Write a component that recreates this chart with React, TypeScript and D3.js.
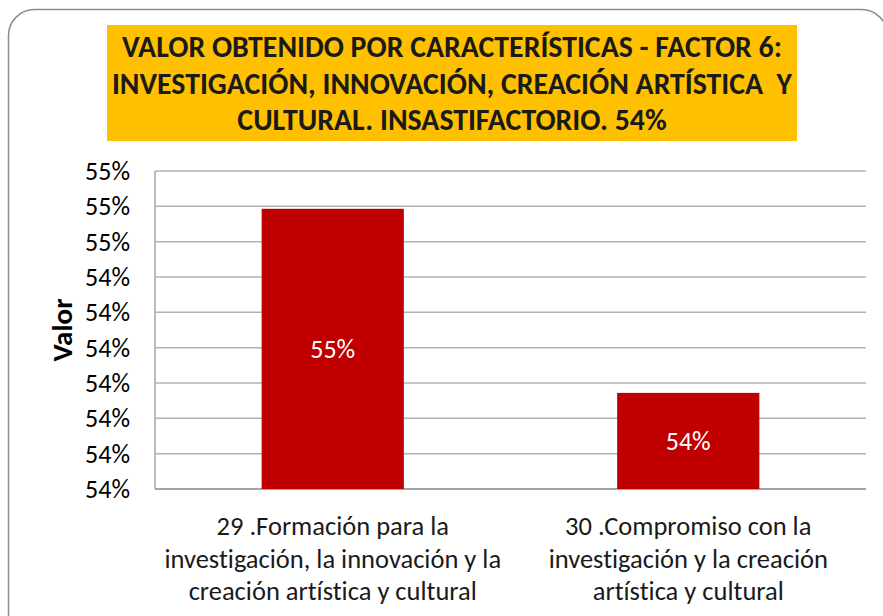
import React from 'react';
import * as d3 from 'd3';

// chart data
const categories = [
  ['29 .Formación para la', 'investigación, la innovación y la', 'creación artística y cultural'],
  ['30 .Compromiso con la', 'investigación y la creación', 'artística y cultural'],
];
const values = [0.54593, 0.54072];
const barLabels = ['55%', '54%'];
const tickValues = [0.538, 0.539, 0.54, 0.541, 0.542, 0.543, 0.544, 0.545, 0.546, 0.547];
const tickLabels = ['54%', '54%', '54%', '54%', '54%', '54%', '54%', '55%', '55%', '55%'];
const titleLines = [
  'VALOR OBTENIDO POR CARACTERÍSTICAS - FACTOR 6:',
  'INVESTIGACIÓN, INNOVACIÓN, CREACIÓN ARTÍSTICA  Y',
  'CULTURAL. INSASTIFACTORIO. 54%',
];

const W = 883;
const H = 616;
const margins = { top: 171, right: 17, bottom: 127, left: 155 };
const font = "Carlito, Calibri, 'Open Sans', sans-serif";

export default function App() {
  const width = W - margins.left - margins.right;
  const height = H - margins.top - margins.bottom;

  const xScale = d3.scaleBand<number>()
    .domain(d3.range(categories.length))
    .range([0, width])
    .paddingInner(0.6)
    .paddingOuter(0.3);

  const yScale = d3.scaleLinear()
    .domain([tickValues[0], tickValues[tickValues.length - 1]])
    .range([height, 0]);

  return (
    <svg
      width={W}
      height={H}
      style={{
        position: 'absolute',
        left: 0,
        top: 0,
        fontVariantLigatures: 'none',
        fontFeatureSettings: '"liga" 0, "clig" 0, "dlig" 0',
      }}
      fontFamily={font}
    >
      <rect x={8.5} y={9.5} width={W - 4} height={H + 20} rx={26} fill="#fff" stroke="#8c8c8c" strokeWidth={1.5} />

      {/* title box */}
      <rect x={107} y={25} width={690} height={116} fill="#FFC000" />
      {titleLines.map((t, i) => (
        <text key={i} x={452} y={57 + i * 36.5} textAnchor="middle" fontWeight="bold" fontSize={29.8} fill="#1a1a1a" style={{ whiteSpace: 'pre' }}>
          {t}
        </text>
      ))}

      <g transform={`translate(${margins.left},${margins.top})`}>
        {/* gridlines */}
        {tickValues.map((v, i) => (
          <line key={i} x1={0} x2={width} y1={yScale(v)} y2={yScale(v)} stroke="#b3b3b3" strokeWidth={1.5} />
        ))}
        <line x1={0} x2={0} y1={0} y2={height} stroke="#a6a6a6" strokeWidth={1.5} />
        <line x1={0} x2={width} y1={height} y2={height} stroke="#999" strokeWidth={1.5} />

        {/* y tick labels */}
        {tickValues.map((v, i) => (
          <text key={i} x={-25} y={yScale(v)} dy="0.35em" textAnchor="end" fontSize={26} fill="#000">
            {tickLabels[i]}
          </text>
        ))}

        {/* bars */}
        {values.map((v, i) => (
          <g key={i}>
            <rect x={xScale(i)} y={yScale(v)} width={xScale.bandwidth()} height={height - yScale(v)} fill="#C00000" />
            <text
              x={(xScale(i) as number) + xScale.bandwidth() / 2}
              y={(yScale(v) + height) / 2}
              dy="0.35em"
              textAnchor="middle"
              fontSize={26}
              fill="#fff"
            >
              {barLabels[i]}
            </text>
          </g>
        ))}

        {/* category labels */}
        {categories.map((lines, i) => (
          <text key={i} textAnchor="middle" fontSize={26.5} fill="#1a1a1a">
            {lines.map((l, j) => (
              <tspan key={j} x={(xScale(i) as number) + xScale.bandwidth() / 2} y={height + 46 + j * 32.5}>
                {l}
              </tspan>
            ))}
          </text>
        ))}

        {/* y axis title */}
        <text transform={`translate(${-83},${height / 2}) rotate(-90)`} textAnchor="middle" fontWeight="bold" fontSize={29} fill="#000">
          Valor
        </text>
      </g>
    </svg>
  );
}
